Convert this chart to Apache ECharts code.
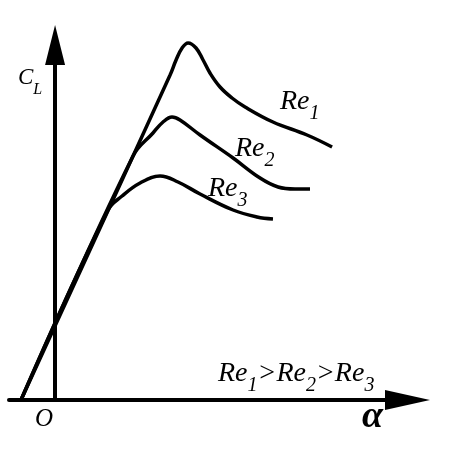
<!DOCTYPE html>
<html>
<head>
<meta charset="utf-8">
<script src="https://cdn.jsdelivr.net/npm/echarts@6/dist/echarts.min.js"></script>
<style>
html, body { margin: 0; padding: 0; background: #fff; }
#chart { width: 451px; height: 451px; }
</style>
</head>
<body>
<div id="chart"></div>
<script>
// angle of attack (arbitrary units) and lift coefficient
const re1Alpha = [-2.27, 7.67, 8.07, 8.47, 8.87, 9.4, 9.87, 10.33, 11.0, 11.8, 12.67, 14.53, 16.8, 18.47]
const re1Cl = [0, 1.625, 1.70, 1.76, 1.785, 1.76, 1.70, 1.635, 1.565, 1.51, 1.465, 1.39, 1.325, 1.265]

const re2Alpha = [-2.27, 5.2, 6.53, 7.2, 7.8, 8.33, 9.67, 11.87, 13.67, 14.87, 16, 17]
const re2Cl = [0, 1.22, 1.335, 1.39, 1.415, 1.4, 1.325, 1.21, 1.11, 1.065, 1.055, 1.055]

const re3Alpha = [-2.27, 3.53, 4.47, 5.67, 7.0, 8.2, 9.67, 11.87, 13.47, 14.53]
const re3Cl = [0, 0.95, 1.02, 1.085, 1.12, 1.09, 1.03, 0.95, 0.915, 0.905]

const alphaMin = -3.07
const alphaMax = 23.5
const clMax = 1.775

const serif = '"Liberation Serif", "Times New Roman", serif'

function zip(xs, ys) {
    return xs.map((x, i) => [x, ys[i]])
}

function curve(name, xs, ys) {
    return {
        name: name,
        type: 'line',
        data: zip(xs, ys),
        smooth: 0.4,
        symbol: 'none',
        clip: false,
        lineStyle: { color: '#000', width: 3.5 },
        z: 3
    }
}

// rich styles for the Re labels (main text + subscript)
const reRich = {
    r: { fontFamily: serif, fontStyle: 'italic', fontSize: 28, lineHeight: 32, color: '#000' },
    s: { fontFamily: serif, fontStyle: 'italic', fontSize: 20, lineHeight: 20, color: '#000', padding: [25, 0, 0, 0] }
}

function label(x, y, text, rich) {
    return {
        type: 'text',
        x: x,
        y: y,
        z: 10,
        style: { text: text, rich: rich, align: 'left', verticalAlign: 'top' }
    }
}

let myChart = echarts.init(document.getElementById('chart'))

let option = {
    animation: false,
    backgroundColor: '#fff',
    grid: {
        left: 9,
        right: 43.5,
        top: 45,
        bottom: 51
    },
    xAxis: {
        type: 'value',
        min: alphaMin,
        max: alphaMax,
        axisLine: {
            onZero: true,
            symbol: ['none', 'triangle'],
            symbolSize: [20, 45],
            lineStyle: { color: '#000', width: 4 }
        },
        axisTick: { show: false },
        axisLabel: { show: false },
        splitLine: { show: false }
    },
    yAxis: {
        type: 'value',
        min: 0,
        max: clMax,
        axisLine: {
            onZero: true,
            symbol: ['none', 'triangle'],
            symbolSize: [20, 40],
            lineStyle: { color: '#000', width: 4 }
        },
        axisTick: { show: false },
        axisLabel: { show: false },
        splitLine: { show: false }
    },
    series: [
        curve('Re1', re1Alpha, re1Cl),
        curve('Re2', re2Alpha, re2Cl),
        curve('Re3', re3Alpha, re3Cl)
    ],
    graphic: [
        label(18, 65, '{c|C}{l|L}', {
            c: { fontFamily: serif, fontStyle: 'italic', fontSize: 23, lineHeight: 26, color: '#000' },
            l: { fontFamily: serif, fontStyle: 'italic', fontSize: 16, lineHeight: 16, color: '#000', padding: [24, 0, 0, 0] }
        }),
        label(280, 85.6, '{r|Re}{s|1}', reRich),
        label(235, 132.6, '{r|Re}{s|2}', reRich),
        label(208, 172.6, '{r|Re}{s|3}', reRich),
        label(218, 357.6, '{r|Re}{s|1}{r|>}{r|Re}{s|2}{r|>}{r|Re}{s|3}', reRich),
        label(35, 407, '{o|O}', {
            o: { fontFamily: serif, fontStyle: 'italic', fontSize: 25, color: '#000' }
        }),
        label(362, 398.6, '{a|α}', {
            a: { fontFamily: serif, fontStyle: 'italic', fontWeight: 'bold', fontSize: 38, color: '#000' }
        })
    ]
}

myChart.setOption(option)
</script>
</body>
</html>
